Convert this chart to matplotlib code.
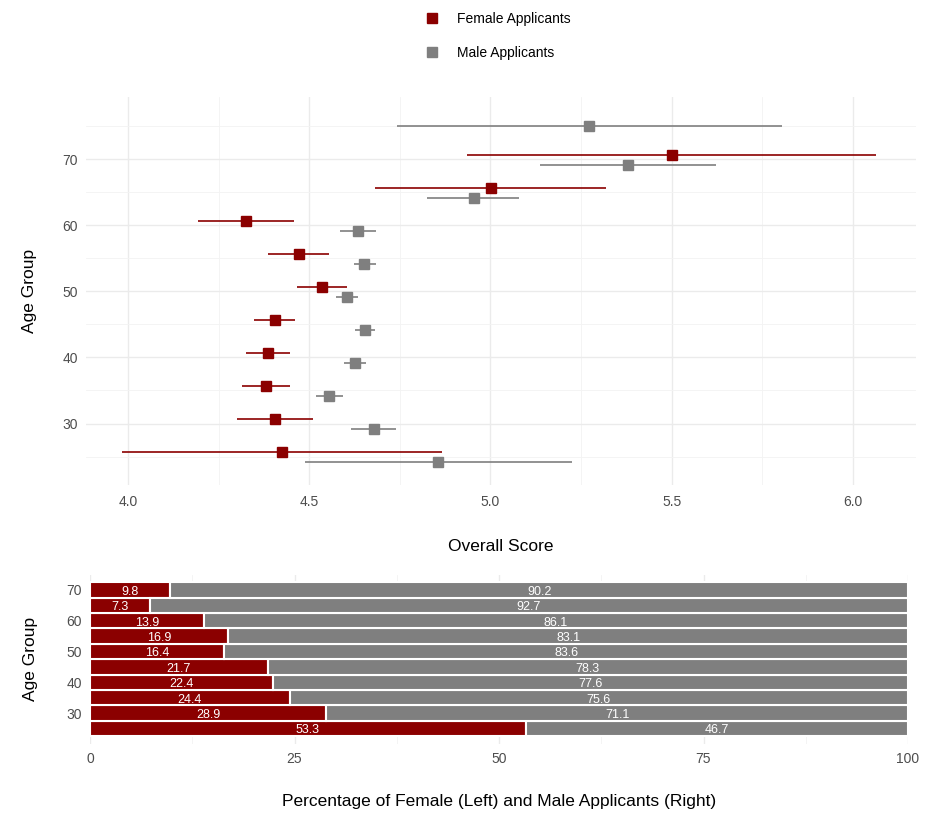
import numpy as np
import matplotlib
matplotlib.use('agg')
from matplotlib import pyplot as plt
from matplotlib.lines import Line2D

plt.rcParams['font.family'] = ['Liberation Sans', 'DejaVu Sans']

# score by age group (mean and interval ends)
female_age = [25, 30, 35, 40, 45, 50, 55, 60, 65, 70]
female_mean = [4.425, 4.406, 4.380, 4.386, 4.404, 4.536, 4.470, 4.325, 5.001, 5.500]
female_lo = [3.982, 4.301, 4.313, 4.326, 4.346, 4.466, 4.386, 4.192, 4.680, 4.936]
female_hi = [4.865, 4.510, 4.445, 4.445, 4.461, 4.605, 4.554, 4.457, 5.319, 6.065]

male_age = [25, 30, 35, 40, 45, 50, 55, 60, 65, 70, 75]
male_mean = [4.856, 4.678, 4.555, 4.627, 4.654, 4.603, 4.652, 4.633, 4.954, 5.380, 5.273]
male_lo = [4.487, 4.615, 4.518, 4.596, 4.626, 4.573, 4.622, 4.585, 4.826, 5.137, 4.741]
male_hi = [5.226, 4.738, 4.593, 4.657, 4.681, 4.633, 4.684, 4.683, 5.080, 5.623, 5.804]

# share of applicants per age group
bar_age = [25, 30, 35, 40, 45, 50, 55, 60, 65, 70]
female_pct = [53.3, 28.9, 24.4, 22.4, 21.7, 16.4, 16.9, 13.9, 7.3, 9.8]
male_pct = [46.7, 71.1, 75.6, 77.6, 78.3, 83.6, 83.1, 86.1, 92.7, 90.2]

RED = '#8B0000'
GREY = '#7F7F7F'
TICK = '#4D4D4D'
GRID = '#EBEBEB'
W, H = 928, 817

def px_axes(fig, left, top, right, bottom):
    return fig.add_axes([left / W, 1 - bottom / H, (right - left) / W, (bottom - top) / H])

def minimal(ax):
    for s in ax.spines.values():
        s.set_visible(False)
    ax.tick_params(length=0, labelsize=10, labelcolor=TICK, pad=6)
    ax.grid(True, which='major', color=GRID, linewidth=1.0)
    ax.grid(True, which='minor', color='#F3F3F3', linewidth=0.6)
    ax.tick_params(which='minor', length=0)
    ax.set_axisbelow(True)

fig = plt.figure(figsize=(W / 100, H / 100), dpi=100)

# ---- top panel: mean score with intervals
ax = px_axes(fig, 86, 97, 916, 485)
minimal(ax)
ax.tick_params(axis='x', pad=7.5)

both = set(female_age) & set(male_age)
fy = [a + 0.65 if a in both else a for a in female_age]
my = [a - 0.85 if a in both else a for a in male_age]

ax.hlines(fy, female_lo, female_hi, color=RED, linewidth=1.2, zorder=2)
ax.hlines(my, male_lo, male_hi, color=GREY, linewidth=1.2, zorder=2)
ax.plot(female_mean, fy, 's', color=RED, markersize=7.5, zorder=3)
ax.plot(male_mean, my, 's', color=GREY, markersize=7.5, zorder=3)

ax.set_xticks([4.0, 4.5, 5.0, 5.5, 6.0])
ax.set_xticks([3.75, 4.25, 4.75, 5.25, 5.75, 6.25], minor=True)
ax.set_yticks([30, 40, 50, 60, 70])
ax.set_yticks([25, 35, 45, 55, 65, 75], minor=True)
ax.set_xlim(3.883, 6.175)
ax.set_ylim(20.7, 79.4)
ax.set_xlabel('Overall Score', fontsize=12.5, labelpad=21)
ax.set_ylabel('Age Group', fontsize=12.5, labelpad=18)

handles = [Line2D([], [], marker='s', linestyle='none', color=RED, markersize=7.5),
           Line2D([], [], marker='s', linestyle='none', color=GREY, markersize=7.5)]
fig.legend(handles, ['Female Applicants', 'Male Applicants'], loc='center',
           bbox_to_anchor=(494 / W, 1 - 36 / H), frameon=False, fontsize=10,
           labelspacing=1.45, handletextpad=0.8)

# ---- bottom panel: female / male shares
bx = px_axes(fig, 90, 574.6, 908, 743.8)
minimal(bx)
bx.barh(bar_age, female_pct, height=5, color=RED, edgecolor='white', linewidth=1.5, zorder=2)
bx.barh(bar_age, male_pct, left=female_pct, height=5, color=GREY, edgecolor='white',
        linewidth=1.5, zorder=2)
for a, f, m in zip(bar_age, female_pct, male_pct):
    bx.text(f / 2, a - 0.6, f'{f:.1f}', color='white', fontsize=9, ha='center', va='center', zorder=3)
    bx.text(f + m / 2, a - 0.6, f'{m:.1f}', color='white', fontsize=9, ha='center', va='center', zorder=3)

bx.set_xlim(0, 100)
bx.set_ylim(20, 75)
bx.set_xticks([0, 25, 50, 75, 100])
bx.set_xticks([12.5, 37.5, 62.5, 87.5], minor=True)
bx.set_yticks([30, 40, 50, 60, 70])
bx.set_xlabel('Percentage of Female (Left) and Male Applicants (Right)', fontsize=12.5, labelpad=20)
bx.set_ylabel('Age Group', fontsize=12.5, labelpad=20)

fig.savefig('out.png', dpi=100)
